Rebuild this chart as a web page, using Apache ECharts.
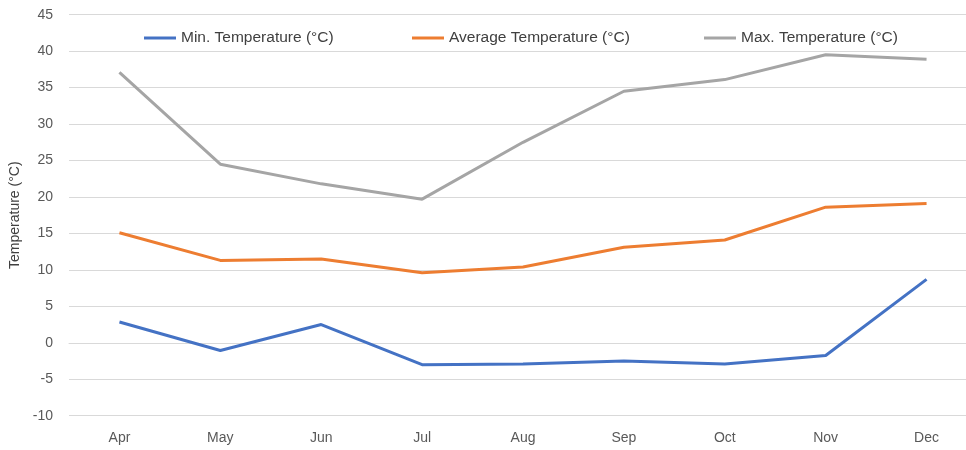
<!DOCTYPE html>
<html>
<head>
<meta charset="utf-8">
<script src="https://cdn.jsdelivr.net/npm/echarts@6/dist/echarts.min.js"></script>
<style>
    html, body { margin: 0; padding: 0; background: #fff; overflow: hidden; }
    /* the plot runs a bit past the right edge of the window, as in the reference */
    #chart { width: 977px; height: 450px; }
</style>
</head>
<body>
<div id="chart"></div>
<script>
const months = ['Apr', 'May', 'Jun', 'Jul', 'Aug', 'Sep', 'Oct', 'Nov', 'Dec'];
const minTemp = [2.85, -1.05, 2.5, -3.0, -2.9, -2.5, -2.9, -1.75, 8.7];
const avgTemp = [15.1, 11.3, 11.5, 9.6, 10.4, 13.1, 14.1, 18.6, 19.1];
const maxTemp = [37.1, 24.5, 21.8, 19.7, 27.5, 34.5, 36.1, 39.5, 38.9];
const seriesNames = ['Min. Temperature (°C)', 'Average Temperature (°C)', 'Max. Temperature (°C)'];
const seriesColors = ['#4472C4', '#ED7D31', '#A5A5A5'];
const legendLeft = [139, 407, 699];

const fontFamily = '"Liberation Sans", Arial, sans-serif';

function makeLegend(i) {
    return {
        left: legendLeft[i],
        top: 25,
        icon: 'rect',
        itemWidth: 32,
        itemHeight: 3,
        itemGap: 0,
        data: [seriesNames[i]],
        textStyle: { color: '#404040', fontSize: 15.5, fontFamily: fontFamily }
    };
}

function makeSeries(i, values) {
    return {
        name: seriesNames[i],
        type: 'line',
        data: values,
        symbol: 'none',
        color: seriesColors[i],
        lineStyle: { width: 3, color: seriesColors[i] },
        z: 3 - i
    };
}

function initChart() {
    const chart = echarts.init(document.getElementById('chart'));
    chart.setOption({
        animation: false,
        grid: { left: 69, top: 14.7, right: 0, bottom: 34.3, containLabel: false, outerBoundsMode: 'none' },
        legend: [0, 1, 2].map(makeLegend),
        xAxis: {
            type: 'category',
            data: months,
            boundaryGap: true,
            axisLine: { lineStyle: { color: '#D9D9D9', width: 1 } },
            axisTick: { show: false },
            axisLabel: { color: '#595959', fontSize: 14, fontFamily: fontFamily, margin: 15 }
        },
        yAxis: {
            type: 'value',
            min: -10,
            max: 45,
            interval: 5,
            name: 'Temperature (°C)',
            nameLocation: 'middle',
            nameGap: 46,
            nameTextStyle: { color: '#404040', fontSize: 14, fontFamily: fontFamily },
            axisLine: { show: false },
            axisTick: { show: false },
            axisLabel: { color: '#595959', fontSize: 14, fontFamily: fontFamily, margin: 16 },
            splitLine: { lineStyle: { color: '#D9D9D9', width: 1 } }
        },
        series: [
            makeSeries(0, minTemp),
            makeSeries(1, avgTemp),
            makeSeries(2, maxTemp)
        ]
    });
}

document.addEventListener('DOMContentLoaded', initChart);
</script>
</body>
</html>
